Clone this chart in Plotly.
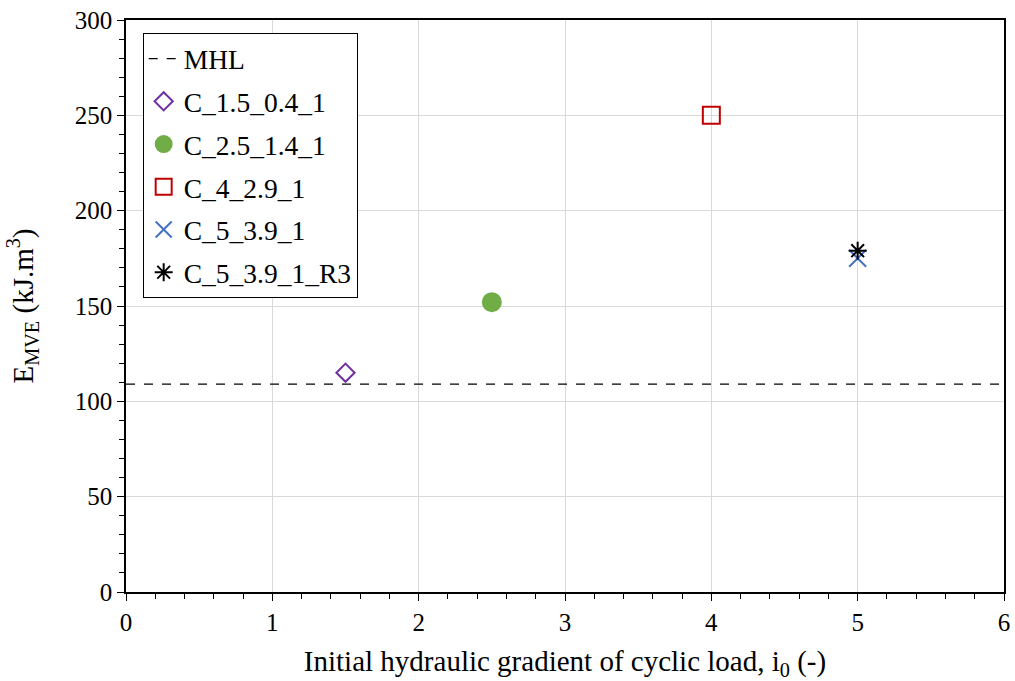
import plotly.graph_objects as go

# MHL threshold line
mhl_x = [0, 6]
mhl_y = [109, 109]

# test series: name, i0, E_MVE
names = ["C_1.5_0.4_1", "C_2.5_1.4_1", "C_4_2.9_1", "C_5_3.9_1", "C_5_3.9_1_R3"]
i0 = [1.5, 2.5, 4, 5, 5]
e_mve = [115, 152, 250, 175, 179]

symbols = ["diamond-open", "circle", "square-open", "x-thin-open", "asterisk-open"]
colors = ["#7030a0", "#70ad47", "#c00000", "#4472c4", "#000000"]
sizes = [14, 18, 17, 17, 15]

fnt = "Liberation Serif"

fig = go.Figure()
fig.add_trace(go.Scatter(x=mhl_x, y=mhl_y, mode="lines", name="MHL", legendgroup="g0",
                         line=dict(color="black", width=1.3, dash="dash")))
for k, (n, xv, yv, s, c, sz) in enumerate(zip(names, i0, e_mve, symbols, colors, sizes)):
    fig.add_trace(go.Scatter(x=[xv], y=[yv], mode="markers", name=n, legendgroup="g%d" % (k + 1),
                             marker=dict(symbol=s, color=c, size=sz,
                                         line=dict(color=c, width=2))))

fig.update_layout(
    width=1015, height=681,
    margin=dict(l=126, r=11, t=20, b=89),
    plot_bgcolor="white", paper_bgcolor="white",
    font=dict(family=fnt, size=25, color="black"),
    showlegend=True,
    legend=dict(x=0.019, y=0.977, xanchor="left", yanchor="top",
                bordercolor="black", borderwidth=1, bgcolor="white",
                font=dict(family=fnt, size=27.5), itemwidth=30, tracegroupgap=4),
)
fig.update_xaxes(range=[0, 6], dtick=1, showgrid=True, gridcolor="#d9d9d9",
                 showline=True, linecolor="black", linewidth=1.5, mirror=True,
                 ticks="outside", ticklen=7, tickcolor="black", zeroline=False,
                 automargin=False, ticklabeloverflow="allow", tickfont=dict(family=fnt, size=25),
                 minor=dict(dtick=0.2, ticks="outside", ticklen=5, tickcolor="black", showgrid=False),
                 title=dict(text="Initial hydraulic gradient of cyclic load, i<sub>0</sub> (-)",
                            font=dict(family=fnt, size=29), standoff=18))
fig.update_yaxes(range=[0, 300], dtick=50, showgrid=True, gridcolor="#d9d9d9",
                 showline=True, linecolor="black", linewidth=1.5, mirror=True,
                 ticks="outside", ticklen=7, tickcolor="black", zeroline=False,
                 automargin=False, ticklabeloverflow="allow", tickfont=dict(family=fnt, size=25),
                 minor=dict(dtick=10, ticks="outside", ticklen=5, tickcolor="black", showgrid=False),
                 title=dict(text="E<sub>MVE</sub> (kJ.m<sup>3</sup>)",
                            font=dict(family=fnt, size=29), standoff=33))

# drop the default body margin so the figure fills the window
fig.write_html("out.html", config={"displayModeBar": False},
               post_script="document.body.style.margin='0';document.body.style.overflow='hidden';")
